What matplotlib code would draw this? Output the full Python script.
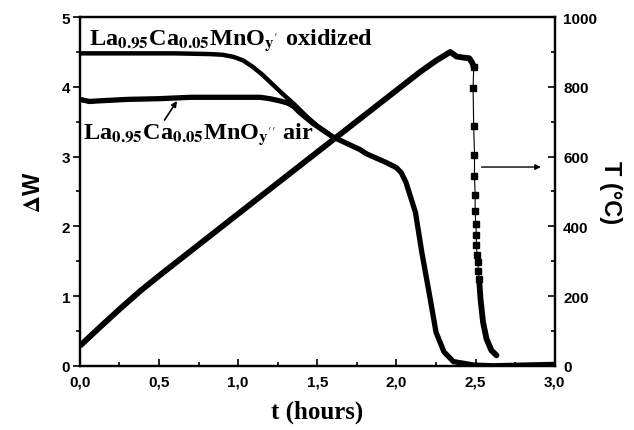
import matplotlib
matplotlib.use('Agg')
import matplotlib.pyplot as plt

plt.rcParams['mathtext.fontset'] = 'stix'

# weight change, oxidized sample (hours, dW)
t_ox = [0.0, 0.3, 0.6, 0.82, 0.90, 0.97, 1.03, 1.09, 1.15, 1.22, 1.28, 1.35, 1.43, 1.52, 1.60]
w_ox = [4.48, 4.48, 4.48, 4.47, 4.46, 4.43, 4.38, 4.29, 4.18, 4.03, 3.90, 3.76, 3.58, 3.40, 3.28]

# weight change, air sample
t_air = [0.0, 0.06, 0.13, 0.3, 0.5, 0.7, 0.9, 1.14, 1.2, 1.26, 1.31, 1.35, 1.39, 1.47,
         1.60, 1.77, 1.81, 1.94, 2.0, 2.03, 2.06, 2.12, 2.16, 2.21, 2.25, 2.30, 2.36,
         2.49, 2.61, 2.8, 3.0]
w_air = [3.82, 3.79, 3.80, 3.82, 3.83, 3.85, 3.85, 3.85, 3.83, 3.80, 3.77, 3.72, 3.63, 3.48,
         3.28, 3.10, 3.04, 2.91, 2.84, 2.77, 2.63, 2.20, 1.63, 1.00, 0.48, 0.20, 0.06,
         0.01, 0.0, 0.01, 0.02]

# temperature program (deg C)
t_heat = [0.0, 0.12, 0.25, 0.38, 0.5, 0.95, 1.52, 2.15, 2.25, 2.34, 2.38, 2.42, 2.46, 2.48, 2.488]
T_heat = [57, 108, 162, 214, 258, 418, 620, 843, 875, 900, 887, 884, 882, 868, 856]
t_drop = [2.488, 2.484, 2.488, 2.493, 2.493, 2.497, 2.497, 2.501, 2.505, 2.505, 2.509, 2.514, 2.518, 2.522]
T_drop = [856, 796, 687, 605, 545, 491, 445, 407, 375, 345, 318, 297, 273, 249]
t_cool = [2.522, 2.531, 2.547, 2.569, 2.600, 2.632]
T_cool = [249, 192, 125, 77, 44, 30]

fig = plt.figure(figsize=(6.34, 4.31), dpi=100)
ax = fig.add_axes([0.126, 0.149, 0.749, 0.809])
ax.plot(t_ox, w_ox, color='black', lw=3.2, solid_capstyle='butt')
ax.plot(t_air, w_air, color='black', lw=3.8, solid_capstyle='butt')
ax.set_xlim(0, 3)
ax.set_ylim(0, 5)

ax2 = ax.twinx()
ax2.plot(t_heat, T_heat, color='black', lw=4.2, solid_capstyle='butt')
ax2.plot(t_drop, T_drop, color='black', lw=0.8, marker='s', ms=3.8)
ax2.plot(t_cool, T_cool, color='black', lw=4.2, solid_capstyle='round')
ax2.set_ylim(0, 1000)

tickfont = dict(family='Liberation Sans', weight='bold', size=11)
ax.set_xticks([0, 0.5, 1.0, 1.5, 2.0, 2.5, 3.0])
ax.set_xticklabels(['0,0', '0,5', '1,0', '1,5', '2,0', '2,5', '3,0'], **tickfont)
ax.set_yticks([0, 1, 2, 3, 4, 5])
ax.set_yticklabels(['0', '1', '2', '3', '4', '5'], **tickfont)
ax.set_xticks([0.25, 0.75, 1.25, 1.75, 2.25, 2.75], minor=True)
ax.set_yticks([0.5, 1.5, 2.5, 3.5, 4.5], minor=True)
ax2.set_yticks([0, 200, 400, 600, 800, 1000])
ax2.set_yticklabels(['0', '200', '400', '600', '800', '1000'], **tickfont)
ax2.set_yticks([100, 300, 500, 700, 900], minor=True)

ax.tick_params(axis='x', which='both', direction='in', top=False, width=1.2, pad=6)
ax.tick_params(axis='x', which='major', length=5)
ax.tick_params(axis='x', which='minor', length=3)
ax.tick_params(axis='y', which='both', direction='out', width=1.2, pad=2)
ax.tick_params(axis='y', which='major', length=5)
ax.tick_params(axis='y', which='minor', length=3)
ax2.tick_params(axis='y', which='both', direction='in', width=1.2, pad=6)
ax2.tick_params(axis='y', which='major', length=5)
ax2.tick_params(axis='y', which='minor', length=3)
for a in (ax, ax2):
    for s in a.spines.values():
        s.set_linewidth(1.6)

ax.set_xlabel('t (hours)', family='Liberation Serif', weight='bold', size=18, labelpad=8)
ax.set_ylabel(r'$\mathbf{\Delta}$W', family='Liberation Sans', weight='bold', size=17, labelpad=12)
ax2.set_ylabel('T (°C)', family='Liberation Sans', weight='bold', size=17, rotation=270, labelpad=18)

lab = dict(family='Liberation Serif', weight='bold', size=17.5)
ax.text(0.06, 4.62, r'La$_{\mathbf{0.95}}$Ca$_{\mathbf{0.05}}$MnO$_{\mathbf{y}^{\prime}}$ oxidized', **lab)
ax.text(0.02, 3.27, r'La$_{\mathbf{0.95}}$Ca$_{\mathbf{0.05}}$MnO$_{\mathbf{y}^{\prime\prime}}$ air', **lab)
ax.annotate('', xy=(0.623, 3.83), xytext=(0.525, 3.49),
            arrowprops=dict(arrowstyle='-|>', color='black', lw=1.2, mutation_scale=8))
ax2.annotate('', xy=(2.93, 570), xytext=(2.52, 570),
             arrowprops=dict(arrowstyle='-|>', color='black', lw=1.0, mutation_scale=8))

fig.savefig('out.png', dpi=100)
